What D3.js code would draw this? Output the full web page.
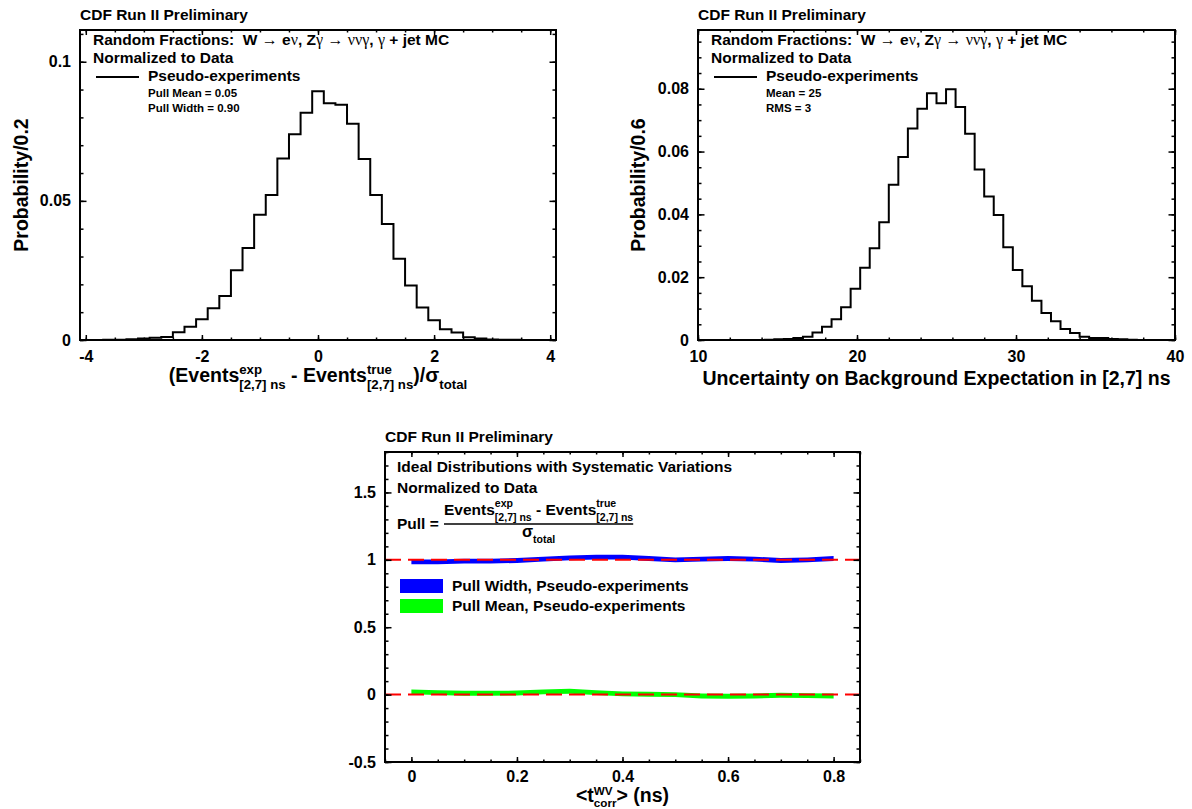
<!DOCTYPE html>
<html lang="en">
<head>
<meta charset="UTF-8">
<title>CDF pseudo-experiments</title>
<script src="https://d3js.org/d3.v7.min.js"></script>
<style>
  body { margin: 0; background: #fff; }
  svg text { font-family: 'Liberation Sans', Arial, Helvetica, sans-serif; font-weight: bold; white-space: pre; fill: #000; }
</style>
</head>
<body>
<div id="chart"></div>
<script>
// ---- data ----
// top left: pull distribution, bins of 0.2 (centres)
const pullBins = [-4.0,-3.8,-3.6,-3.4,-3.2,-3.0,-2.8,-2.6,-2.4,-2.2,-2.0,-1.8,-1.6,-1.4,-1.2,-1.0,-0.8,-0.6,-0.4,-0.2,
                  0.0,0.2,0.4,0.6,0.8,1.0,1.2,1.4,1.6,1.8,2.0,2.2,2.4,2.6,2.8,3.0,3.2,3.4,3.6,3.8,4.0];
const pullProb = [0,0,0.0001,0.0001,0.0003,0.0005,0.0008,0.0011,0.0028,0.0048,0.0075,0.0114,0.0158,0.0251,0.0331,
                  0.0450,0.0521,0.0652,0.0739,0.0817,0.0894,0.0851,0.0845,0.0777,0.0650,0.0521,0.0417,0.0292,0.0196,
                  0.0117,0.0071,0.0039,0.0027,0.0010,0.0005,0.0002,0.0001,0.0001,0,0,0];
const pullBinWidth = 0.2;

// top right: uncertainty on background expectation, bins of 0.6 (lower edges)
const bkgBins = [10.0,10.6,11.2,11.8,12.4,13.0,13.6,14.2,14.8,15.4,16.0,16.6,17.2,17.8,18.4,19.0,19.6,20.2,20.8,21.4,
                 22.0,22.6,23.2,23.8,24.4,25.0,25.6,26.2,26.8,27.4,28.0,28.6,29.2,29.8,30.4,31.0,31.6,32.2,32.8,33.4,
                 34.0,34.6,35.2,35.8,36.4,37.0,37.6,38.2,38.8,39.4];
const bkgProb = [0,0,0,0,0,0,0,0.0001,0.0002,0.0003,0.0006,0.0010,0.0024,0.0042,0.0066,0.0104,0.0163,0.0230,0.0292,
                 0.0375,0.0494,0.0583,0.0673,0.0736,0.0786,0.0754,0.0798,0.0742,0.0657,0.0543,0.0457,0.0398,0.0295,
                 0.0223,0.0171,0.0125,0.0086,0.0060,0.0035,0.0022,0.0010,0.0006,0.0006,0.0003,0.0002,0.0001,0,0,0,0];
const bkgBinWidth = 0.6;

// bottom: pull width / mean versus <t_corr>
const tcorr     = [0,0.05,0.1,0.15,0.2,0.25,0.3,0.35,0.4,0.45,0.5,0.55,0.6,0.65,0.7,0.75,0.8];
const pullWidth = [0.985,0.985,0.99,0.99,0.995,1.005,1.015,1.02,1.02,1.01,1.0,1.005,1.01,1.005,0.995,1.0,1.01];
const pullMean  = [0.02,0.015,0.01,0.01,0.012,0.02,0.025,0.015,0.005,0.003,0.0,-0.01,-0.012,-0.01,-0.005,-0.008,-0.01];
const bandErr = 0.018;
const refLines = [1, 0];

// tick labels
const x1Ticks = [-4,-2,0,2,4],            x1Labels = ["-4","-2","0","2","4"];
const y1Ticks = [0,0.05,0.1],             y1Labels = ["0","0.05","0.1"];
const x2Ticks = [10,20,30,40],            x2Labels = ["10","20","30","40"];
const y2Ticks = [0,0.02,0.04,0.06,0.08],  y2Labels = ["0","0.02","0.04","0.06","0.08"];
const x3Ticks = [0,0.2,0.4,0.6,0.8],      x3Labels = ["0","0.2","0.4","0.6","0.8"];
const y3Ticks = [-0.5,0,0.5,1,1.5],       y3Labels = ["-0.5","0","0.5","1","1.5"];

const SERIF = "'Liberation Serif', 'Times New Roman', serif";

const svg = d3.select("#chart").append("svg")
    .attr("width", 1192).attr("height", 809);

// draw frame, ticks on all four sides (pointing in), labels bottom/left
function frame(P, x, y, xt, xl, xMinor, yt, yl, yMinor, xPad = 10.5) {
    const g = svg.append("g");
    const W = P.right - P.left, H = P.bottom - P.top;
    const clean = s => { s.select(".domain").remove(); s.selectAll("text").attr("font-size", 16).attr("font-family", null); };

    // minor ticks
    g.append("g").attr("transform", `translate(0,${P.bottom})`)
        .call(d3.axisBottom(x).tickValues(xMinor).tickFormat("").tickSize(-2.5)).call(clean);
    g.append("g").attr("transform", `translate(0,${P.top})`)
        .call(d3.axisTop(x).tickValues(xMinor).tickFormat("").tickSize(-2.5)).call(clean);
    g.append("g").attr("transform", `translate(${P.left},0)`)
        .call(d3.axisLeft(y).tickValues(yMinor).tickFormat("").tickSize(-3.5)).call(clean);
    g.append("g").attr("transform", `translate(${P.right},0)`)
        .call(d3.axisRight(y).tickValues(yMinor).tickFormat("").tickSize(-3.5)).call(clean);

    // major ticks
    g.append("g").attr("transform", `translate(0,${P.bottom})`)
        .call(d3.axisBottom(x).tickValues(xt).tickFormat((d, i) => xl[i]).tickSize(-5).tickPadding(xPad)).call(clean);
    g.append("g").attr("transform", `translate(0,${P.top})`)
        .call(d3.axisTop(x).tickValues(xt).tickFormat("").tickSize(-5)).call(clean);
    g.append("g").attr("transform", `translate(${P.left},0)`)
        .call(d3.axisLeft(y).tickValues(yt).tickFormat((d, i) => yl[i]).tickSize(-6.5).tickPadding(9)).call(clean);
    g.append("g").attr("transform", `translate(${P.right},0)`)
        .call(d3.axisRight(y).tickValues(yt).tickFormat("").tickSize(-6.5)).call(clean);

    g.selectAll(".tick line").attr("stroke", "#000").attr("stroke-width", 1.5);

    g.append("rect").attr("x", P.left).attr("y", P.top).attr("width", W).attr("height", H)
        .attr("fill", "none").attr("stroke", "#000").attr("stroke-width", 2);
}

// text with stacked super/subscripts, ROOT TLatex style
function latex(parent, x, y, segs, size, anchor, supK = 0.5, subK = 0.38, scriptK = 0.68) {
    const g = parent.append("g");
    let cx = 0;
    segs.forEach(s => {
        if (s.t !== undefined) {
            const t = g.append("text").attr("x", cx).attr("y", 0).attr("font-size", size).text(s.t);
            if (s.serif) t.attr("font-family", SERIF).attr("font-weight", "normal").attr("font-size", size * 1.05);
            cx += t.node().getComputedTextLength();
        }
        let w = 0;
        if (s.sup) {
            const t = g.append("text").attr("x", cx).attr("y", -size * supK).attr("font-size", size * scriptK).text(s.sup);
            w = Math.max(w, t.node().getComputedTextLength());
        }
        if (s.sub) {
            const t = g.append("text").attr("x", cx).attr("y", size * subK).attr("font-size", size * scriptK).text(s.sub);
            w = Math.max(w, t.node().getComputedTextLength());
        }
        cx += w;
    });
    const dx = anchor === "middle" ? -cx / 2 : 0;
    g.attr("transform", `translate(${x + dx},${y})`);
    return cx;
}

function yTitle(x, y, txt) {
    svg.append("text").attr("transform", `translate(${x},${y}) rotate(-90)`)
        .attr("text-anchor", "middle").attr("font-size", 19.5).text(txt);
}

function processLine(g, x, y) {
    const t = g.append("text").attr("x", x).attr("y", y).attr("font-size", 15.5);
    const parts = [["Random Fractions:  W ", 0], ["\u2192", 1], [" e", 0], ["\u03bd", 1], [", Z", 0], ["\u03b3", 1],
                   [" ", 0], ["\u2192", 1], [" ", 0], ["\u03bd\u03bd\u03b3", 1], [", ", 0], ["\u03b3", 1], [" + jet MC", 0]];
    parts.forEach(([s, serif]) => {
        const ts = t.append("tspan").text(s);
        if (serif) ts.attr("font-family", SERIF).attr("font-weight", "normal").attr("font-size", 16);
    });
}

function histPath(edgesLo, width, vals, x, y) {
    const pts = [[edgesLo[0], 0]];
    vals.forEach((v, i) => { pts.push([edgesLo[i], v]); pts.push([edgesLo[i] + width, v]); });
    pts.push([edgesLo[edgesLo.length - 1] + width, 0]);
    return d3.line().x(d => x(d[0])).y(d => y(d[1]))(pts);
}

// ============ top left ============
{
    const P = { left: 80, right: 556, top: 30, bottom: 340 };
    const x = d3.scaleLinear().domain([-4.1, 4.1]).range([P.left, P.right]);
    const y = d3.scaleLinear().domain([0, 0.1114]).range([P.bottom, P.top]);
    const lo = pullBins.map(c => c - pullBinWidth / 2);
    svg.append("path").attr("d", histPath(lo, pullBinWidth, pullProb, x, y))
        .attr("fill", "none").attr("stroke", "#000").attr("stroke-width", 2);
    frame(P, x, y, x1Ticks, x1Labels, d3.range(-4, 4.01, 0.5), y1Ticks, y1Labels, d3.range(0, 0.111, 0.01));

    svg.append("text").attr("x", P.left).attr("y", 20).attr("font-size", 15.5).text("CDF Run II Preliminary");
    processLine(svg, P.left + 13, 45);
    svg.append("text").attr("x", P.left + 13).attr("y", 63).attr("font-size", 15.5).text("Normalized to Data");
    svg.append("line").attr("x1", P.left + 16).attr("x2", P.left + 59).attr("y1", 77).attr("y2", 77)
        .attr("stroke", "#000").attr("stroke-width", 2);
    svg.append("text").attr("x", P.left + 68).attr("y", 81).attr("font-size", 15.5).text("Pseudo-experiments");
    svg.append("text").attr("x", P.left + 68).attr("y", 97).attr("font-size", 11.5).text("Pull Mean = 0.05");
    svg.append("text").attr("x", P.left + 68).attr("y", 112).attr("font-size", 11.5).text("Pull Width = 0.90");

    yTitle(28, (P.top + P.bottom) / 2, "Probability/0.2");
    latex(svg, (P.left + P.right) / 2, 382, [
        { t: "(Events", sup: "exp", sub: "[2,7] ns" },
        { t: " - Events", sup: "true", sub: "[2,7] ns" },
        { t: ")/" }, { t: "\u03c3", serif: true, sub: "total" }
    ], 19.5, "middle", 0.42, 0.36);
}

// ============ top right ============
{
    const P = { left: 698, right: 1175, top: 30, bottom: 340 };
    const x = d3.scaleLinear().domain([10, 40]).range([P.left, P.right]);
    const y = d3.scaleLinear().domain([0, 0.0987]).range([P.bottom, P.top]);
    svg.append("path").attr("d", histPath(bkgBins, bkgBinWidth, bkgProb, x, y))
        .attr("fill", "none").attr("stroke", "#000").attr("stroke-width", 2);
    frame(P, x, y, x2Ticks, x2Labels, d3.range(10, 40.01, 2), y2Ticks, y2Labels, d3.range(0, 0.0986, 0.005));

    svg.append("text").attr("x", P.left).attr("y", 20).attr("font-size", 15.5).text("CDF Run II Preliminary");
    processLine(svg, P.left + 13, 45);
    svg.append("text").attr("x", P.left + 13).attr("y", 63).attr("font-size", 15.5).text("Normalized to Data");
    svg.append("line").attr("x1", P.left + 16).attr("x2", P.left + 59).attr("y1", 77).attr("y2", 77)
        .attr("stroke", "#000").attr("stroke-width", 2);
    svg.append("text").attr("x", P.left + 68).attr("y", 81).attr("font-size", 15.5).text("Pseudo-experiments");
    svg.append("text").attr("x", P.left + 68).attr("y", 97).attr("font-size", 11.5).text("Mean = 25");
    svg.append("text").attr("x", P.left + 68).attr("y", 112).attr("font-size", 11.5).text("RMS = 3");

    yTitle(645, (P.top + P.bottom) / 2, "Probability/0.6");
    svg.append("text").attr("x", (P.left + P.right) / 2).attr("y", 385).attr("text-anchor", "middle")
        .attr("font-size", 19.5).text("Uncertainty on Background Expectation in [2,7] ns");
}

// ============ bottom ============
{
    const P = { left: 385, right: 860, top: 452, bottom: 762 };
    const x = d3.scaleLinear().domain([-0.05, 0.85]).range([P.left, P.right]);
    const y = d3.scaleLinear().domain([-0.5, 1.8]).range([P.bottom, P.top]);

    const band = vals => d3.area()
        .x((d, i) => x(tcorr[i]))
        .y0((d, i) => y(vals[i] - bandErr))
        .y1((d, i) => y(vals[i] + bandErr))(vals);
    svg.append("path").attr("d", band(pullWidth)).attr("fill", "#0000ff");
    svg.append("path").attr("d", band(pullMean)).attr("fill", "#00ff00");

    svg.selectAll(".ref").data(refLines).join("line")
        .attr("x1", P.left).attr("x2", P.right)
        .attr("y1", d => y(d)).attr("y2", d => y(d))
        .attr("stroke", "#ff0000").attr("stroke-width", 2).attr("stroke-dasharray", "16,7");

    frame(P, x, y, x3Ticks, x3Labels, d3.range(-0.05, 0.851, 0.05), y3Ticks, y3Labels, d3.range(-0.5, 1.81, 0.1), 8.5);

    svg.append("text").attr("x", P.left).attr("y", 442).attr("font-size", 15.5).text("CDF Run II Preliminary");
    svg.append("text").attr("x", P.left + 12).attr("y", 472).attr("font-size", 15.5)
        .text("Ideal Distributions with Systematic Variations");
    svg.append("text").attr("x", P.left + 12).attr("y", 493).attr("font-size", 15.5).text("Normalized to Data");
    svg.append("text").attr("x", P.left + 12).attr("y", 529).attr("font-size", 15.5).text("Pull =");
    const fx = 444;
    const numW = latex(svg, fx, 515, [
        { t: "Events", sup: "exp", sub: "[2,7] ns" },
        { t: " - Events", sup: "true", sub: "[2,7] ns" }
    ], 15.5, "start");
    svg.append("line").attr("x1", fx).attr("x2", fx + numW).attr("y1", 524).attr("y2", 524)
        .attr("stroke", "#000").attr("stroke-width", 1.5);
    latex(svg, fx + numW / 2, 537, [{ t: "\u03c3", serif: true, sub: "total" }], 15.5, "middle");

    // legend
    const leg = [["Pull Width, Pseudo-experiments", "#0000ff"], ["Pull Mean, Pseudo-experiments", "#00ff00"]];
    leg.forEach(([lab, col], i) => {
        svg.append("rect").attr("x", 400).attr("y", 579 + i * 20).attr("width", 43).attr("height", 14).attr("fill", col);
        svg.append("text").attr("x", 452).attr("y", 591 + i * 20).attr("font-size", 15.5).text(lab);
    });

    latex(svg, (P.left + P.right) / 2, 802, [
        { t: "<t", sup: "WV", sub: "corr" }, { t: "> (ns)" }
    ], 19.5, "middle", 0.36, 0.24, 0.6);
}
</script>
</body>
</html>
